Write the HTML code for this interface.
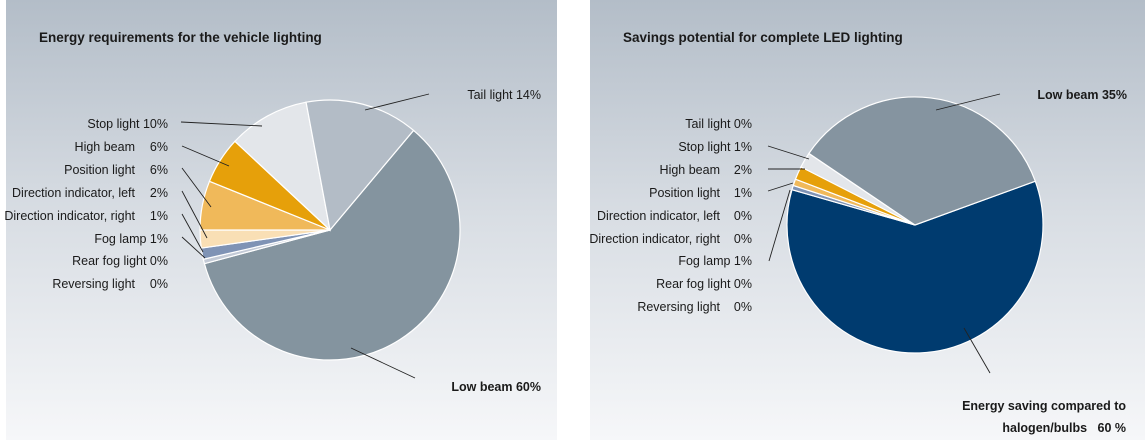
<!DOCTYPE html>
<html><head><meta charset="utf-8"><style>
html,body{margin:0;padding:0;background:#fff;width:1145px;height:440px;overflow:hidden}
svg{display:block}
text{font-family:"Liberation Sans Narrow","Liberation Sans",sans-serif;font-size:12.5px;fill:#1a1a1a}
.t{font-family:"Liberation Sans",sans-serif;font-weight:bold;font-size:13.5px}
.b{font-weight:bold}
</style></head><body>
<svg id="s" width="1145" height="440" viewBox="0 0 1145 440">
<defs><linearGradient id="g" x1="0" y1="0" x2="0" y2="1"><stop offset="0" stop-color="#b3bdc8"/><stop offset="0.5" stop-color="#d9dee4"/><stop offset="1" stop-color="#f6f7f9"/></linearGradient></defs>
<rect x="6" y="0" width="551" height="440" fill="url(#g)"/>
<rect x="590" y="0" width="555" height="440" fill="url(#g)"/>
<text class="t" x="39" y="42">Energy requirements for the vehicle lighting</text>
<text class="t" x="623" y="42">Savings potential for complete LED lighting</text>
<g id="p1"></g><g id="p2"></g>
<g stroke="#222" stroke-width="0.9">
<line x1="365" y1="110" x2="429" y2="94"/><line x1="181" y1="122" x2="262" y2="126"/>
<line x1="182" y1="146" x2="229" y2="166"/><line x1="182" y1="168" x2="211" y2="207"/>
<line x1="182" y1="191" x2="207" y2="238"/><line x1="182" y1="214" x2="203" y2="252"/>
<line x1="182" y1="237" x2="205" y2="258"/><line x1="351" y1="348" x2="415" y2="378"/>
<line x1="936" y1="110" x2="1000" y2="94"/><line x1="768" y1="146" x2="809" y2="159"/>
<line x1="768" y1="169" x2="805" y2="169"/><line x1="768" y1="191" x2="793" y2="183"/>
<line x1="769" y1="261" x2="790" y2="190"/><line x1="964" y1="328" x2="990" y2="373"/>
</g>
<g text-anchor="end">
<text x="168" y="128">Stop light 10%</text>
<text x="135" y="151">High beam</text><text x="168" y="151">6%</text>
<text x="135" y="174">Position light</text><text x="168" y="174">6%</text>
<text x="135" y="197">Direction indicator, left</text><text x="168" y="197">2%</text>
<text x="135" y="220">Direction indicator, right</text><text x="168" y="220">1%</text>
<text x="168" y="243">Fog lamp 1%</text>
<text x="168" y="265">Rear fog light 0%</text>
<text x="135" y="288">Reversing light</text><text x="168" y="288">0%</text>
<text x="541" y="99">Tail light 14%</text>
<text x="541" y="391" class="b">Low beam 60%</text>
<text x="752" y="128">Tail light 0%</text>
<text x="752" y="151">Stop light 1%</text>
<text x="720" y="174">High beam</text><text x="752" y="174">2%</text>
<text x="720" y="197">Position light</text><text x="752" y="197">1%</text>
<text x="720" y="220">Direction indicator, left</text><text x="752" y="220">0%</text>
<text x="720" y="243">Direction indicator, right</text><text x="752" y="243">0%</text>
<text x="752" y="265">Fog lamp 1%</text>
<text x="752" y="288">Rear fog light 0%</text>
<text x="720" y="311">Reversing light</text><text x="752" y="311">0%</text>
<text x="1127" y="99" class="b">Low beam 35%</text>
<text x="1126" y="410" class="b">Energy saving compared to</text>
<text x="1126" y="432" class="b">halogen/bulbs&#160;&#160;&#160;60 %</text>
</g>
</svg>
<script>
function pie(id,cx,cy,r,sl){var g=document.getElementById(id),h='';
sl.forEach(function(s){var a=s[0]*Math.PI/180,b=s[1]*Math.PI/180;
var x1=cx+r*Math.sin(a),y1=cy-r*Math.cos(a),x2=cx+r*Math.sin(b),y2=cy-r*Math.cos(b);
var l=((s[1]-s[0]+360)%360)>180?1:0;
h+='<path d="M'+cx+' '+cy+'L'+x1.toFixed(2)+' '+y1.toFixed(2)+'A'+r+' '+r+' 0 '+l+' 1 '+x2.toFixed(2)+' '+y2.toFixed(2)+'Z" fill="'+s[2]+'" stroke="#fff" stroke-width="1.2"/>';});
g.innerHTML=h;}
pie('p1',330,230,130,[[40,255,'#84949f'],[255,257,'#c3cad6'],[257,262,'#7f93b5'],[262,270,'#f9dfb5'],[270,292,'#f0b95a'],[292,313,'#e6a00a'],[313,349.4,'#e3e6ea'],[349.4,400,'#b3bcc6']]);
pie('p2',915,225,128,[[70,286,'#003b6f'],[286,288,'#7f93b5'],[288,291,'#f0b95a'],[291,297,'#e6a00a'],[297,304,'#e3e6ea'],[304,430,'#8594a0']]);
</script>
</body></html>
